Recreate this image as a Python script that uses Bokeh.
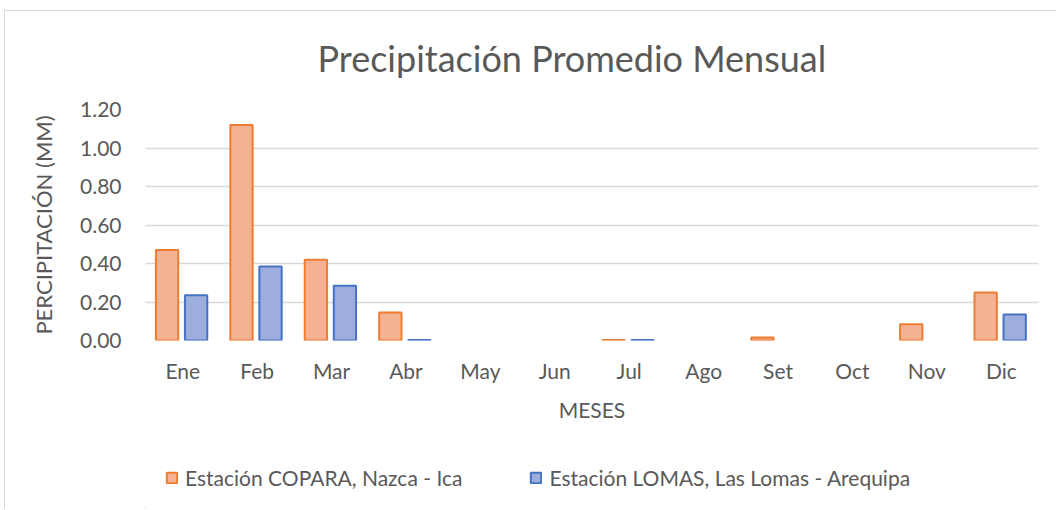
from bokeh.plotting import figure
from bokeh.layouts import column
from bokeh.models import ColumnDataSource, FactorRange, Range1d, Legend, LegendItem, NumeralTickFormatter, FixedTicker
from bokeh.transform import dodge
from bokeh.embed import file_html
from bokeh.resources import INLINE

months = ["Ene", "Feb", "Mar", "Abr", "May", "Jun", "Jul", "Ago", "Set", "Oct", "Nov", "Dic"]
copara = [0.47, 1.12, 0.42, 0.145, 0.0, 0.0, 0.002, 0.0, 0.015, 0.0, 0.085, 0.25]
lomas = [0.235, 0.385, 0.285, 0.003, 0.0, 0.0, 0.002, 0.0, 0.0, 0.0, 0.0, 0.135]
y_ticks = [0.0, 0.2, 0.4, 0.6, 0.8, 1.0, 1.2]
series_names = ["Estación COPARA, Nazca - Ica", "Estación LOMAS, Las Lomas - Arequipa"]

FONT = "Lato"
GREY = "#595959"
FILL = ["#F5B293", "#9DAEDD"]
EDGE = ["#ED7D31", "#4472C4"]

src = ColumnDataSource(dict(
    month=months, copara=copara, lomas=lomas,
    a_copara=[1.0 if v > 0 else 0.0 for v in copara],
    a_lomas=[1.0 if v > 0 else 0.0 for v in lomas],
))

p = figure(width=1051, height=422, x_range=FactorRange(*months, range_padding=0),
           y_range=Range1d(0, 1.2), output_backend="svg", toolbar_location=None,
           min_border_left=140, min_border_right=18, min_border_top=106, min_border_bottom=85)
p.outline_line_color = None
p.border_fill_alpha = 0
p.styles = {"margin-top": "-8px"}

p.title.text = "Precipitación Promedio Mensual"
p.title.align = "left"
p.title.offset = 172
p.title.text_font = FONT
p.title.text_font_size = "36px"
p.title.text_font_style = "normal"
p.title.text_color = GREY
p.title.standoff = 60

p.vbar(x=dodge("month", -0.21, range=p.x_range), top="copara", width=0.30, source=src,
       fill_color=FILL[0], line_color=EDGE[0], line_width=2,
       fill_alpha="a_copara", line_alpha="a_copara")
p.vbar(x=dodge("month", 0.18, range=p.x_range), top="lomas", width=0.30, source=src,
       fill_color=FILL[1], line_color=EDGE[1], line_width=2,
       fill_alpha="a_lomas", line_alpha="a_lomas")

p.xgrid.grid_line_color = None
p.ygrid.grid_line_color = "#D9D9D9"
p.ygrid.grid_line_width = 1.5
p.yaxis.ticker = FixedTicker(ticks=y_ticks)
p.yaxis.formatter = NumeralTickFormatter(format="0.00")

for ax in (p.xaxis[0], p.yaxis[0]):
    ax.axis_line_color = None
    ax.major_tick_line_color = None
    ax.minor_tick_line_color = None
    ax.major_tick_out = 0
    ax.major_tick_in = 0
    ax.minor_tick_out = 0
    ax.major_label_text_font = FONT
    ax.major_label_text_font_size = "21px"
    ax.major_label_text_color = GREY
    ax.axis_label_text_font = FONT
    ax.axis_label_text_font_style = "normal"
    ax.axis_label_text_color = GREY

p.yaxis.axis_label = "PERCIPITACIÓN (MM)"
p.yaxis.axis_label_text_font_size = "22px"
p.yaxis.major_label_standoff = 24
p.yaxis.axis_label_standoff = 20
p.xaxis.axis_label = "MESES"
p.xaxis.axis_label_text_font_size = "21px"
p.xaxis.major_label_standoff = 17
p.xaxis.axis_label_standoff = 11

# legend strip (frame aligned with the main plot's frame by the column layout)
p2 = figure(width=1051, height=84, output_backend="svg", toolbar_location=None,
            x_range=Range1d(0, 1), y_range=Range1d(0, 1),
            min_border=0, min_border_left=0, min_border_right=0, min_border_top=0, min_border_bottom=0)
p2.axis.visible = False
p2.grid.grid_line_color = None
p2.outline_line_color = None
hidden = ColumnDataSource(dict(x=[-5.0], top=[-5.0]))
g1 = p2.vbar(x="x", top="top", width=1, source=hidden, fill_color=FILL[0], line_color=EDGE[0], line_width=2)
g2 = p2.vbar(x="x", top="top", width=1, source=hidden, fill_color=FILL[1], line_color=EDGE[1], line_width=2)
legend = Legend(items=[LegendItem(label=series_names[0], renderers=[g1]),
                       LegendItem(label=series_names[1], renderers=[g2])],
                location=(20, 19), orientation="horizontal", border_line_color=None,
                background_fill_alpha=0, padding=0, margin=0, spacing=67,
                glyph_width=13, glyph_height=13, label_standoff=7,
                label_text_font=FONT, label_text_font_size="21px", label_text_color=GREY)
p2.add_layout(legend, "center")

layout = column(p, p2, spacing=0,
                styles={"margin-left": "4px", "margin-top": "10px",
                        "border-left": "1px solid #D9D9D9", "border-top": "1px solid #D9D9D9"})

open("out.html", "w").write(file_html(layout, INLINE))
